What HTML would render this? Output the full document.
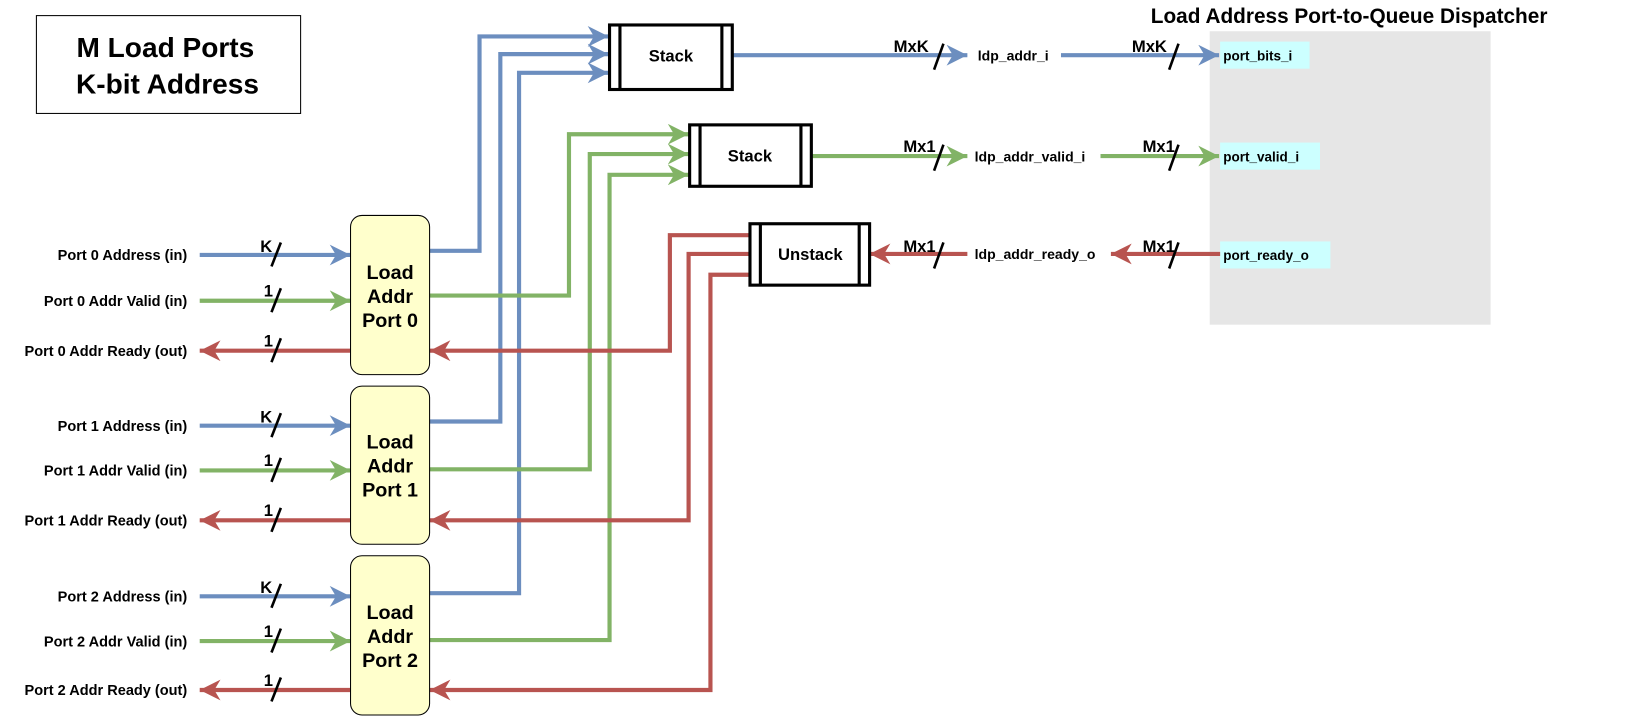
<!DOCTYPE html>
<html><head><meta charset="utf-8"><style>
html,body{margin:0;padding:0;background:#fff;}
svg{display:block;font-family:"Liberation Sans",Arial,sans-serif;font-weight:bold;}
</style></head><body>
<svg width="1631" height="716" viewBox="0 0 1568 688" preserveAspectRatio="none" xmlns="http://www.w3.org/2000/svg">
<defs>
<marker id="ab" markerUnits="userSpaceOnUse" markerWidth="22" markerHeight="22" refX="20" refY="10" orient="auto"><path d="M0,0 L20,10 L0,20 L6,10 z" fill="#6c8ebf"/></marker>
<marker id="ag" markerUnits="userSpaceOnUse" markerWidth="22" markerHeight="22" refX="20" refY="10" orient="auto"><path d="M0,0 L20,10 L0,20 L6,10 z" fill="#82b366"/></marker>
<marker id="ar" markerUnits="userSpaceOnUse" markerWidth="22" markerHeight="22" refX="20" refY="10" orient="auto"><path d="M0,0 L20,10 L0,20 L6,10 z" fill="#b85450"/></marker>
</defs>

<rect x="35" y="15" width="254" height="94" fill="#fff" stroke="#000" stroke-width="1"/>
<text x="159" y="55" font-size="27" text-anchor="middle">M Load Ports</text>
<text x="161" y="90" font-size="27" text-anchor="middle">K-bit Address</text>

<rect x="1163" y="30" width="270" height="282" fill="#e6e6e6"/>
<text x="1297" y="22" font-size="20" text-anchor="middle">Load Address Port-to-Queue Dispatcher</text>
<rect x="1173" y="40" width="86" height="26" fill="#ccffff"/>
<text x="1176" y="58" font-size="13">port_bits_i</text>
<rect x="1173" y="137" width="96" height="26" fill="#ccffff"/>
<text x="1176" y="155" font-size="13">port_valid_i</text>
<rect x="1173" y="232" width="106" height="26" fill="#ccffff"/>
<text x="1176" y="250" font-size="13">port_ready_o</text>

<g fill="none" stroke-width="4">
<polyline points="413,241 461,241 461,35 585,35" stroke="#6c8ebf" marker-end="url(#ab)"/>
<polyline points="413,405 481,405 481,52 585,52" stroke="#6c8ebf" marker-end="url(#ab)"/>
<polyline points="413,570 499,570 499,70 585,70" stroke="#6c8ebf" marker-end="url(#ab)"/>
<polyline points="413,284 547,284 547,129 662,129" stroke="#82b366" marker-end="url(#ag)"/>
<polyline points="413,451 567,451 567,148 662,148" stroke="#82b366" marker-end="url(#ag)"/>
<polyline points="413,615 586,615 586,168 662,168" stroke="#82b366" marker-end="url(#ag)"/>
<polyline points="720,226 644,226 644,337 413,337" stroke="#b85450" marker-end="url(#ar)"/>
<polyline points="720,244 662,244 662,500 413,500" stroke="#b85450" marker-end="url(#ar)"/>
<polyline points="720,264 683,264 683,663 413,663" stroke="#b85450" marker-end="url(#ar)"/>

<line x1="192" y1="245" x2="337" y2="245" stroke="#6c8ebf" marker-end="url(#ab)"/>
<line x1="192" y1="289" x2="337" y2="289" stroke="#82b366" marker-end="url(#ag)"/>
<line x1="337" y1="337" x2="192" y2="337" stroke="#b85450" marker-end="url(#ar)"/>
<line x1="192" y1="409" x2="337" y2="409" stroke="#6c8ebf" marker-end="url(#ab)"/>
<line x1="192" y1="452" x2="337" y2="452" stroke="#82b366" marker-end="url(#ag)"/>
<line x1="337" y1="500" x2="192" y2="500" stroke="#b85450" marker-end="url(#ar)"/>
<line x1="192" y1="573" x2="337" y2="573" stroke="#6c8ebf" marker-end="url(#ab)"/>
<line x1="192" y1="616" x2="337" y2="616" stroke="#82b366" marker-end="url(#ag)"/>
<line x1="337" y1="663" x2="192" y2="663" stroke="#b85450" marker-end="url(#ar)"/>

<line x1="704" y1="53" x2="930" y2="53" stroke="#6c8ebf" marker-end="url(#ab)"/>
<line x1="1020" y1="53" x2="1172" y2="53" stroke="#6c8ebf" marker-end="url(#ab)"/>
<line x1="780" y1="150" x2="930" y2="150" stroke="#82b366" marker-end="url(#ag)"/>
<line x1="1058" y1="150" x2="1172" y2="150" stroke="#82b366" marker-end="url(#ag)"/>
<line x1="930" y1="244" x2="836" y2="244" stroke="#b85450" marker-end="url(#ar)"/>
<line x1="1173" y1="244" x2="1068" y2="244" stroke="#b85450" marker-end="url(#ar)"/>
</g>

<g stroke="#000" stroke-width="2.5">
<line x1="270" y1="233" x2="261" y2="256"/>
<line x1="270" y1="277" x2="261" y2="300"/>
<line x1="270" y1="325" x2="261" y2="348"/>
<line x1="270" y1="397" x2="261" y2="420"/>
<line x1="270" y1="440" x2="261" y2="463"/>
<line x1="270" y1="488" x2="261" y2="511"/>
<line x1="270" y1="561" x2="261" y2="584"/>
<line x1="270" y1="604" x2="261" y2="627"/>
<line x1="270" y1="651" x2="261" y2="674"/>
<line x1="907" y1="42" x2="898" y2="67"/>
<line x1="1133" y1="42" x2="1124" y2="67"/>
<line x1="907" y1="139" x2="898" y2="164"/>
<line x1="1133" y1="139" x2="1124" y2="164"/>
<line x1="907" y1="233" x2="898" y2="258"/>
<line x1="1133" y1="233" x2="1124" y2="258"/>
</g>

<g font-size="16" text-anchor="middle">
<text x="256" y="242">K</text><text x="258" y="285">1</text><text x="258" y="333">1</text>
<text x="256" y="406">K</text><text x="258" y="448">1</text><text x="258" y="496">1</text>
<text x="256" y="570">K</text><text x="258" y="612">1</text><text x="258" y="659">1</text>
<text x="876" y="50">MxK</text><text x="1105" y="50">MxK</text>
<text x="884" y="146">Mx1</text><text x="1114" y="146">Mx1</text>
<text x="884" y="242">Mx1</text><text x="1114" y="242">Mx1</text>
</g>

<g font-size="13.5">
<text x="940" y="58">ldp_addr_i</text>
<text x="937" y="155">ldp_addr_valid_i</text>
<text x="937" y="249">ldp_addr_ready_o</text>
</g>
<g font-size="14" text-anchor="end">
<text x="180" y="250">Port 0 Address (in)</text>
<text x="180" y="294">Port 0 Addr Valid (in)</text>
<text x="180" y="342">Port 0 Addr Ready (out)</text>
<text x="180" y="414">Port 1 Address (in)</text>
<text x="180" y="457">Port 1 Addr Valid (in)</text>
<text x="180" y="505">Port 1 Addr Ready (out)</text>
<text x="180" y="578">Port 2 Address (in)</text>
<text x="180" y="621">Port 2 Addr Valid (in)</text>
<text x="180" y="668">Port 2 Addr Ready (out)</text>
</g>

<g fill="#fff" stroke="#000" stroke-width="3">
<rect x="586" y="24" width="118" height="62"/>
<line x1="596" y1="24" x2="596" y2="86"/><line x1="694" y1="24" x2="694" y2="86"/>
<rect x="663" y="120" width="117" height="59"/>
<line x1="673" y1="120" x2="673" y2="179"/><line x1="770" y1="120" x2="770" y2="179"/>
<rect x="721" y="215" width="115" height="59"/>
<line x1="731" y1="215" x2="731" y2="274"/><line x1="826" y1="215" x2="826" y2="274"/>
</g>
<g font-size="16" text-anchor="middle">
<text x="645" y="59">Stack</text>
<text x="721" y="155">Stack</text>
<text x="779" y="250">Unstack</text>
</g>

<g fill="#ffffcc" stroke="#000" stroke-width="1">
<rect x="337" y="207" width="76" height="153" rx="11"/>
<rect x="337" y="371" width="76" height="152" rx="11"/>
<rect x="337" y="534" width="76" height="153" rx="11"/>
</g>
<g font-size="19" text-anchor="middle">
<text x="375" y="268">Load</text><text x="375" y="291">Addr</text><text x="375" y="314">Port 0</text>
<text x="375" y="431">Load</text><text x="375" y="454">Addr</text><text x="375" y="477">Port 1</text>
<text x="375" y="595">Load</text><text x="375" y="618">Addr</text><text x="375" y="641">Port 2</text>
</g>
</svg>
</body></html>
